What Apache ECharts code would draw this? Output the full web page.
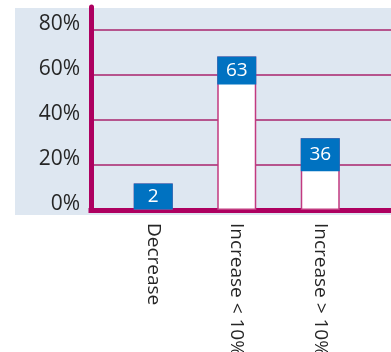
<!DOCTYPE html>
<html>
<head>
<meta charset="utf-8">
<script src="https://cdn.jsdelivr.net/npm/echarts@6/dist/echarts.min.js"></script>
<style>
  html, body { margin: 0; padding: 0; background: #fff; }
  #chart { width: 391px; height: 352px; }
</style>
</head>
<body>
<div id="chart"></div>
<script>
// categories and values
var categories = ['Decrease', 'Increase < 10%', 'Increase > 10%'];
var shares = [11.7, 68, 31.8];      // bar heights, % of answers
var counts = [2, 63, 36];           // numbers in the blue boxes
var yTicks = [0, 20, 40, 60, 80];

var magenta = '#ad0060';
var boxHeights = [26, 28, 33];

var chart = echarts.init(document.getElementById('chart'), null, { renderer: 'canvas' });
chart.setOption({
  animation: false,
  textStyle: { fontFamily: 'Open Sans' },
  graphic: [{
    type: 'rect', z: -10, silent: true,
    shape: { x: 15, y: 8, width: 376, height: 207 },
    style: { fill: '#dee7f1' }
  }],
  grid: [
    { left: 91, right: 0, top: 7, bottom: 142, outerBoundsMode: 'none', containLabel: false },
    { left: 111.5, right: 29, top: 7, bottom: 142, outerBoundsMode: 'none', containLabel: false }
  ],
  xAxis: [
    {
      gridIndex: 0, type: 'category', data: [''],
      axisLine: { lineStyle: { color: magenta, width: 5, cap: 'square' } },
      axisTick: { show: false }, axisLabel: { show: false }
    },
    {
      gridIndex: 1, type: 'category', data: categories,
      axisLine: { show: false }, axisTick: { show: false },
      axisLabel: { rotate: -90, margin: 13, fontSize: 19, color: '#262626', fontFamily: 'Open Sans' }
    }
  ],
  yAxis: [
    {
      gridIndex: 0, type: 'value', min: 0, max: 90, interval: 20,
      axisLine: { show: true, lineStyle: { color: magenta, width: 5 } },
      axisTick: { show: false },
      axisLabel: {
        showMaxLabel: false, margin: 11, fontSize: 21, color: '#262626',
        verticalAlign: 'bottom', lineHeight: 11,
        formatter: function (v) { return yTicks.indexOf(v) >= 0 ? v + '%' : ''; }
      },
      splitLine: { show: true, showMaxLine: false, lineStyle: { color: '#a8246c', width: 1.5 } }
    },
    {
      gridIndex: 1, type: 'value', min: 0, max: 90, show: false
    }
  ],
  series: [{
    type: 'bar',
    xAxisIndex: 1, yAxisIndex: 1,
    barWidth: 39,
    data: shares.map(function (v, i) {
      return { value: v, label: { height: boxHeights[i], lineHeight: boxHeights[i] } };
    }),
    itemStyle: { color: '#ffffff', borderColor: '#c23a80', borderWidth: 1.5 },
    label: {
      show: true, position: 'insideTop', distance: 0,
      formatter: function (p) { return counts[p.dataIndex]; },
      color: '#ffffff', fontSize: 19, fontFamily: 'Open Sans',
      backgroundColor: '#0072c1', width: 39, align: 'center'
    },
    z: 3
  }]
});
</script>
</body>
</html>
